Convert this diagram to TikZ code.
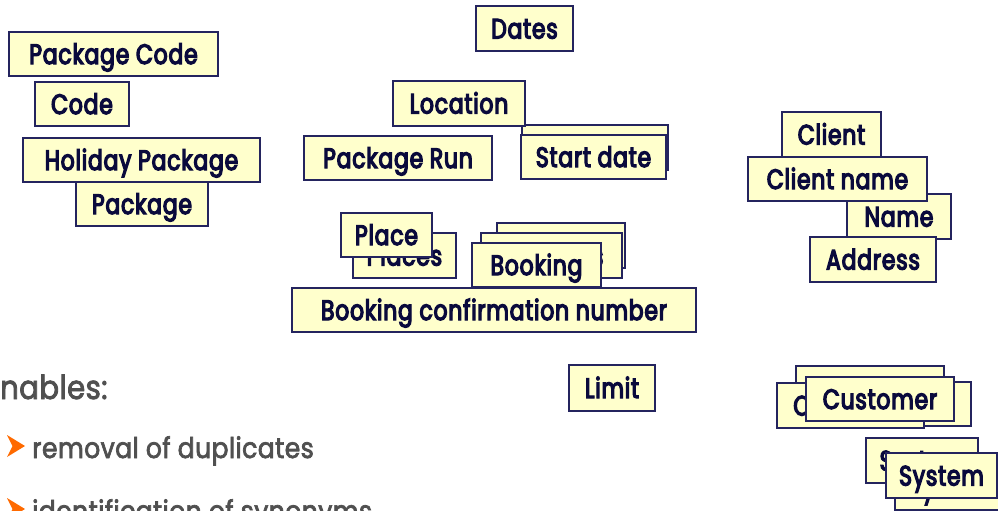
\documentclass[tikz,border=0pt]{standalone}
\usepackage{fontspec}
\setmainfont{Poppins}
\newfontfamily\termfont{Poppins}[FakeStretch=0.78, FakeBold=4.5, LetterSpace=3]
\newfontfamily\notefont{Poppins}[FakeStretch=0.88, FakeBold=2.5, LetterSpace=1.5]
\definecolor{termfill}{HTML}{FFFFCC}
\definecolor{termedge}{HTML}{24245E}
\definecolor{termtext}{HTML}{0A0A3C}
\definecolor{notegray}{HTML}{505050}
\definecolor{bulletorange}{HTML}{FF6A00}
\begin{document}
\begin{tikzpicture}[x=1pt,y=-1pt,
  term/.style={draw=termedge, fill=termfill, line width=1.2pt, inner sep=0pt,
    text=termtext, text height=20pt, text depth=0pt,
    font=\termfont\fontsize{28}{32}\selectfont},
  note/.style={anchor=base west, inner sep=0pt, text=notegray,
    font=\notefont\fontsize{28.5}{34}\selectfont},
  bullet/.style={fill=bulletorange}]
\clip (0,0) rectangle (998,511);

% left column
\node[term, minimum width=97pt,  minimum height=45pt] (dates)    at (524.5,28.5) {Dates};
\node[term, minimum width=209pt, minimum height=44pt] (pkgcode)  at (113.5,54)   {Package Code};
\node[term, minimum width=94pt,  minimum height=44pt] (code)     at (82,104)     {Code};
\node[term, minimum width=237pt, minimum height=44pt] (holiday)  at (141.5,160)  {Holiday Package};
\node[term, minimum width=132pt, minimum height=44pt] (package)  at (142,204)    {Package};

% centre group
\node[term, minimum width=146pt, minimum height=45pt] (startb)   at (595,147.5)  {Start date};
\node[term, minimum width=132pt, minimum height=45pt] (location) at (459,103.5)  {Location};
\node[term, minimum width=188pt, minimum height=44pt] (pkgrun)   at (398,158)    {Package Run};
\node[term, minimum width=145pt, minimum height=44pt] (start)    at (593.5,157)  {Start date};

\node[term, minimum width=103pt, minimum height=45pt] (places)   at (404.5,255.5) {Places};
\node[term, minimum width=91pt,  minimum height=44pt] (place)    at (386.5,235)   {Place};
\node[term, minimum width=128pt, minimum height=45pt] (bookingsb) at (561,245.5)  {Bookings};
\node[term, minimum width=141pt, minimum height=45pt] (bookings) at (551.5,255.5) {Bookings};
\node[term, minimum width=129pt, minimum height=44pt] (booking)  at (536.5,265)   {Booking};
\node[term, minimum width=404pt, minimum height=44pt] (bcn)      at (494,310)     {Booking confirmation number};
\node[term, minimum width=86pt,  minimum height=46pt] (limit)    at (612,388)     {Limit};

% right group
\node[term, minimum width=99pt,  minimum height=45pt] (client)   at (831.5,134.5) {Client};
\node[term, minimum width=104pt, minimum height=45pt] (name)     at (899,216.5)   {Name};
\node[term, minimum width=179pt, minimum height=44pt] (clientname) at (837.5,179) {Client name};
\node[term, minimum width=126pt, minimum height=45pt] (address)  at (873,259.5)   {Address};

\node[term, minimum width=148pt, minimum height=45pt] (custb)    at (870,388.5)   {Customer};
\node[term, minimum width=148pt, minimum height=44pt] (custc)    at (897,404)     {Customer};
\node[term, minimum width=147pt, minimum height=45pt] (custa)    at (850.5,405.5) {Customer};
\node[term, minimum width=148pt, minimum height=44pt] (customer) at (880,399)     {Customer};

\node[term, minimum width=112pt, minimum height=45pt] (systema)  at (922,460.5)   {System};
\node[term, minimum width=112pt, minimum height=44pt] (systemb)  at (951,488)     {System};
\node[term, minimum width=111pt, minimum height=45pt] (system)   at (941.5,475.5) {System};

% bullet text
\node[note, font=\notefont\fontsize{33}{38}\selectfont] (enables) at (0,399) {nables:};
\fill[bullet] (7,435) -- (25,446) -- (7,457) -- (12.5,446) -- cycle;
\node[note] (dup) at (32,458) {removal of duplicates};
\fill[bullet] (7,498) -- (25,509) -- (7,520) -- (12.5,509) -- cycle;
\node[note] (syn) at (32,521) {identification of synonyms};
\end{tikzpicture}
\end{document}
